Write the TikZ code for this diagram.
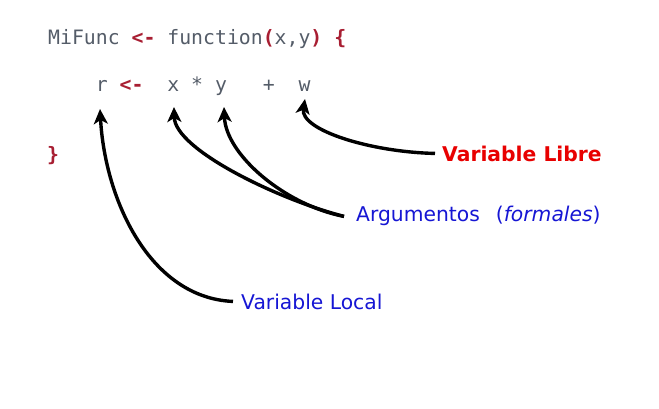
\documentclass[tikz,border=0pt]{standalone}
\usepackage{fontspec}
\setmainfont{DejaVu Sans}
\newfontfamily\codefont{DejaVu Sans Mono}
\usetikzlibrary{arrows.meta}
\definecolor{codegray}{RGB}{84,92,104}
\definecolor{codered}{RGB}{168,30,50}
\definecolor{labred}{RGB}{232,0,0}
\definecolor{labblue}{RGB}{22,22,212}
\newcommand{\rd}[1]{\textcolor{codered}{\bfseries #1}}
\tikzset{
  codetext/.style={anchor=base west, inner sep=0pt, text=codegray, font=\codefont\fontsize{19.8}{24}\selectfont},
  labtext/.style={anchor=base west, inner sep=0pt, font=\fontsize{20.3}{24}\selectfont},
  pointer/.style={draw=black, line width=3.4pt, -{Stealth[length=15pt,width=14pt,inset=4pt]}},
}
\begin{document}
\begin{tikzpicture}[x=1pt,y=-1pt]
\useasboundingbox (0,0) rectangle (659,409);
\fill[white] (0,0) rectangle (659,409);
% code
\node[codetext] (l1) at (48,45) {MiFunc \rd{<-} function\rd{(}x,y\rd{)} \rd{\{}};
\node[codetext] (l2) at (48,92) {\ \ \ \ r \rd{<-}\ \ x * y\ \ \ +\ \ w};
\node[codetext] (l3) at (47,162) {\rd{\}}};
% tips
\coordinate (tr) at (100,109);
\coordinate (tx) at (174,107);
\coordinate (ty) at (224,107);
\coordinate (tw) at (305,99);
% labels
\node[labtext, text=labred, font=\bfseries\fontsize{20.3}{24}\selectfont] (lib) at (442,161) {Variable Libre};
\node[labtext, text=labblue] (arg) at (356,222) {Argumentos\hspace{16pt}(\textit{formales})};
\node[labtext, text=labblue] (loc) at (241,309) {Variable Local};
% arrows
\draw[pointer] ([xshift=-7pt]lib.west) .. controls (370,152) and (300,130) .. (tw);
\draw[pointer] ([xshift=-12pt]arg.west) .. controls (280,200) and (175,150) .. (tx);
\draw[pointer] ([xshift=-12pt]arg.west) .. controls (285,205) and (226,155) .. (ty);
\draw[pointer] ([xshift=-8pt]loc.west) .. controls (150,298) and (105,200) .. (tr);
\end{tikzpicture}
\end{document}
